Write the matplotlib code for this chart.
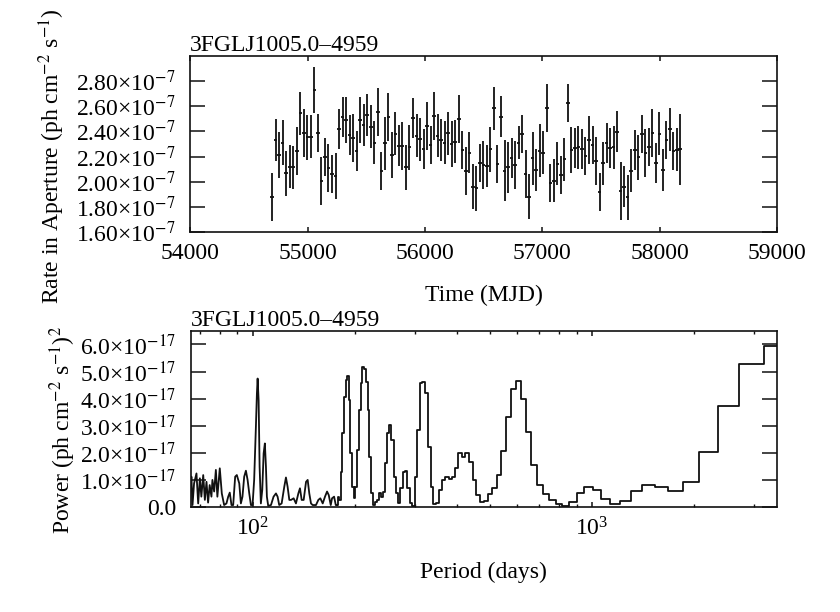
import numpy as np
import matplotlib.pyplot as plt
from matplotlib.ticker import FuncFormatter, FixedLocator, LogLocator, NullFormatter

plt.rcParams['font.family'] = ['Liberation Serif', 'DejaVu Serif']
plt.rcParams['mathtext.fontset'] = 'stix'
plt.rcParams['font.size'] = 17

source = '3FGLJ1005.0\u20134959'

# light curve, 30 day bins (rate in units of 1e-7 ph cm^-2 s^-1)
mjd = [54698, 54728, 54758, 54788, 54818, 54848, 54878, 54908, 54938, 54968,
       54998, 55028, 55058, 55088, 55118, 55148, 55178, 55208, 55238, 55268,
       55298, 55328, 55358, 55388, 55418, 55448, 55478, 55508, 55538, 55568,
       55598, 55628, 55658, 55688, 55718, 55748, 55778, 55808, 55838, 55868,
       55898, 55928, 55958, 55988, 56018, 56048, 56078, 56108, 56138, 56168,
       56198, 56228, 56258, 56288, 56318, 56348, 56378, 56408, 56438, 56468,
       56498, 56528, 56558, 56588, 56618, 56648, 56678, 56708, 56738, 56768,
       56798, 56828, 56858, 56888, 56918, 56948, 56978, 57008, 57038, 57068,
       57098, 57128, 57158, 57188, 57218, 57248, 57278, 57308, 57338, 57368,
       57398, 57428, 57458, 57488, 57518, 57548, 57578, 57608, 57638, 57668,
       57698, 57728, 57758, 57788, 57818, 57848, 57878, 57908, 57938, 57968,
       57998, 58028, 58058, 58088, 58118, 58148, 58172]
rate = [1.883, 2.332, 2.213, 2.311, 2.068, 2.120, 2.115, 2.247, 2.543, 2.385,
        2.353, 2.358, 2.728, 2.385, 2.009, 2.200, 2.107, 2.062, 2.046, 2.419,
        2.512, 2.491, 2.372, 2.345, 2.247, 2.491, 2.451, 2.530, 2.438, 2.311,
        2.557, 2.089, 2.306, 2.512, 2.213, 2.380, 2.287, 2.284, 2.115,
        2.274, 2.504, 2.364, 2.337, 2.258, 2.443, 2.292, 2.522, 2.364, 2.332,
        2.311, 2.385, 2.300, 2.319, 2.496, 2.253, 2.089, 2.232, 1.962, 1.949,
        2.147, 2.134, 2.126, 2.258, 2.583, 2.142, 2.517, 2.089, 2.115, 2.187,
        2.134, 2.311, 2.380, 2.062, 1.883, 2.187, 2.094, 2.247, 2.232, 2.583,
        1.994, 2.009, 2.142, 2.054, 2.179, 2.628, 2.253, 2.266, 2.274, 2.258,
        2.205, 2.332, 2.292, 2.168, 1.922, 2.147, 2.306, 2.266, 2.274, 2.398,
        1.930, 1.962, 1.877, 2.089, 2.253, 2.195, 2.380, 2.226, 2.274, 2.390,
        2.147, 2.380, 2.094, 2.332, 2.417, 2.247, 2.253, 2.258]
rate_err = [0.19, 0.17, 0.18, 0.18, 0.18, 0.17, 0.17, 0.19, 0.17, 0.19,
            0.18, 0.17, 0.18, 0.15, 0.19, 0.15, 0.19, 0.15, 0.18, 0.16,
            0.16, 0.18, 0.16, 0.19, 0.16, 0.18, 0.17, 0.17, 0.17, 0.17,
            0.19, 0.15, 0.21, 0.19, 0.18, 0.17, 0.16, 0.19, 0.18,
            0.18, 0.16, 0.17, 0.17, 0.16, 0.19, 0.15, 0.19, 0.17, 0.17,
            0.17, 0.17, 0.18, 0.17, 0.19, 0.15, 0.19, 0.16, 0.18, 0.18,
            0.15, 0.19, 0.17, 0.18, 0.17, 0.15, 0.16, 0.24, 0.20, 0.16,
            0.19, 0.13, 0.15, 0.19, 0.18, 0.21, 0.17, 0.21, 0.17, 0.19,
            0.15, 0.17, 0.17, 0.15, 0.17, 0.15, 0.18, 0.16, 0.17, 0.16,
            0.15, 0.19, 0.15, 0.19, 0.15, 0.17, 0.16, 0.16, 0.17, 0.16,
            0.23, 0.16, 0.18, 0.17, 0.16, 0.18, 0.15, 0.19, 0.15, 0.19,
            0.16, 0.17, 0.17, 0.15, 0.17, 0.15, 0.17, 0.28]
bin_half = 15

# periodogram (power in units of 1e-17 (ph cm^-2 s^-1)^2)
# short periods: dense part, read as a jagged line
short_period = [65.5, 65.9, 66.4, 67.1, 68.2, 69.0, 69.8, 70.5, 71.4, 72.2,
                73.0, 73.8, 74.6, 75.5, 76.0, 76.9, 77.8, 78.6, 79.9, 81.0,
                82.3, 83.6, 84.6, 85.5, 86.5, 87.5, 88.7, 89.7, 91.2, 92.2,
                93.2, 94.3, 95.4, 96.5, 97.6, 98.7, 99.8, 100.9, 102.1, 102.8,
                103.3, 104.0, 104.7, 105.6, 106.6, 107.6, 108.5, 109.3, 110.0, 111.0,
                113.1, 115.1, 117.0, 118.3, 119.6, 121.6, 123.8, 125.2, 126.6, 128.1,
                129.6, 131.9, 134.0, 136.2, 137.7, 139.3, 141.2, 143.5, 145.1, 146.7,
                148.4, 150.1, 153.5, 156.0, 158.1, 160.7, 163.2, 165.5, 167.4, 169.7,
                171.2, 173.6, 175.6]
short_power = [0.60, 1.11, 0.06, 0.86, 1.23, 0.12, 1.05, 0.37, 1.17, 0.25,
               0.92, 0.15, 0.80, 0.37, 0.99, 0.56, 1.36, 0.37, 1.42, 0.49,
               0.06, 0.12, 0.37, 0.52, 0.06, 0.06, 1.11, 1.17, 0.86, 0.12,
               0.37, 1.11, 1.33, 0.99, 0.49, 0.06, 0.06, 0.99, 2.96, 4.19,
               4.74, 3.94, 1.48, 0.12, 0.62, 1.97, 2.34, 1.48, 0.37, 0.03,
               0.06, 0.37, 0.49, 0.37, 0.06, 0.12, 0.74, 1.08, 0.74, 0.25,
               0.25, 0.31, 0.12, 0.49, 0.68, 0.25, 0.25, 0.92, 0.99, 0.49,
               0.12, 0.06, 0.06, 0.25, 0.31, 0.12, 0.37, 0.56, 0.43, 0.06,
               0.31, 0.37, 0.06]

# longer periods: one value per trial frequency k / T_os, k = 5 ... 99
T_os = 17550.0
freq_k = np.arange(5, 100)
step_power = [5.93, 5.26, 3.72, 2.03, 0.92, 0.59, 0.74, 0.80, 0.59, 0.22,
              0.10, 0.27, 0.62, 0.74, 0.52, 0.19, 0.04, 0.09, 0.25, 0.47,
              0.80, 1.54, 2.77, 4.00, 4.66, 4.34, 3.30, 2.07, 1.17, 0.70,
              0.48, 0.22, 0.18, 0.43, 0.99, 1.66, 1.97, 1.82, 1.97, 1.42,
              1.08, 1.01, 1.08, 0.99, 0.62, 0.12, 0.10, 0.74, 2.22, 4.19,
              4.62, 4.56, 2.83, 1.11, 0.04, 0.12, 0.68, 1.32, 1.29, 0.68,
              0.12, 0.49, 1.11, 2.46, 3.02, 2.71, 1.60, 0.56, 0.37, 0.52,
              0.25, 0.19, 0.06, 0.49, 1.85, 3.57, 4.62, 5.11, 5.17, 4.56,
              3.57, 2.09, 0.74, 0.31, 0.74, 1.97, 3.94, 4.85, 4.68, 4.06,
              2.71, 1.29, 0.25, 0.37, 0.06]

rate_ticks = [1.6, 1.8, 2.0, 2.2, 2.4, 2.6, 2.8]
power_ticks = [0, 1, 2, 3, 4, 5, 6]

ink = '#111111'

fig = plt.figure(figsize=(8.4, 6.12), dpi=100)
fig.patch.set_facecolor('white')

# ---- light curve
ax1 = fig.add_axes([0.2265, 0.6204, 0.6985, 0.2886])
ax1.errorbar(mjd, rate, yerr=rate_err, xerr=bin_half, fmt='none',
             ecolor=ink, elinewidth=1.3, capsize=0)
ax1.set_xlim(54000, 59000)
ax1.set_ylim(1.6, 3.0)
ax1.yaxis.set_major_locator(FixedLocator(rate_ticks))
ax1.yaxis.set_major_formatter(FuncFormatter(lambda v, p: '%.2f\u00d710$^{-7}$' % v))
ax1.set_xlabel('Time (MJD)', labelpad=15)
ax1.set_ylabel(r'Rate in Aperture (ph cm$^{-2}$ s$^{-1}$)')
ax1.yaxis.set_label_coords(-0.210, 0.432)
ax1.set_title(source, loc='left', pad=1, fontsize=17)

# ---- periodogram
period = T_os / freq_k
order = np.argsort(period)
period = period[order]
power = np.array(step_power)[order]

ax2 = fig.add_axes([0.2268, 0.1721, 0.6982, 0.2871])
ax2.set_xscale('log')
ax2.plot(short_period + [period[0]], short_power + [power[0]], color=ink, lw=1.3)
ax2.step(period, power, where='mid', color=ink, lw=1.3)
ax2.set_xlim(65.5, 3510)
ax2.set_ylim(0, 6.5)
ax2.yaxis.set_major_locator(FixedLocator(power_ticks))
ax2.yaxis.set_major_formatter(FuncFormatter(
    lambda v, p: '0.0' if v == 0 else '%.1f\u00d710$^{-17}$' % v))
ax2.xaxis.set_major_locator(LogLocator(base=10))
ax2.xaxis.set_minor_locator(LogLocator(base=10, subs=np.arange(2, 10)))
ax2.xaxis.set_minor_formatter(NullFormatter())
ax2.set_xlabel('Period (days)', labelpad=15)
ax2.set_ylabel(r'Power (ph cm$^{-2}$ s$^{-1}$)$^2$')
ax2.yaxis.set_label_coords(-0.192, 0.434)
ax2.set_title(source, loc='left', pad=1, fontsize=17)

for ax in (ax1, ax2):
    for s in ax.spines.values():
        s.set_linewidth(1.2)
        s.set_color(ink)
    ax.tick_params(axis='y', which='major', direction='in', length=10.8, width=1.1,
                   left=True, right=True, pad=10.5, color=ink)
    ax.tick_params(axis='x', which='major', direction='in', length=3.6, width=1.1,
                   top=True, bottom=True, pad=8, color=ink)
    ax.tick_params(axis='x', which='minor', direction='in', length=2.4, width=1.0,
                   top=True, bottom=True, color=ink)

fig.savefig('out.png', dpi=100)
